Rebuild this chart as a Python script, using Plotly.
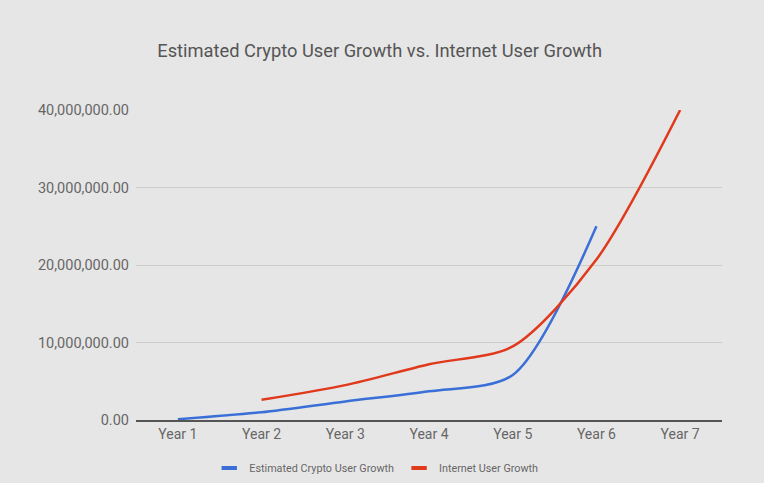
import plotly.graph_objects as go

years = ["Year 1", "Year 2", "Year 3", "Year 4", "Year 5", "Year 6", "Year 7"]
crypto_users = [100000, 1000000, 2400000, 3700000, 5800000, 25000000, None]
internet_users = [None, 2600000, 4500000, 7200000, 9500000, 20700000, 40000000]
y_ticks = [0, 10000000, 20000000, 30000000, 40000000]
y_tick_labels = ["0.00", "10,000,000.00", "20,000,000.00", "30,000,000.00", "40,000,000.00"]
series_names = ["Estimated Crypto User Growth", "Internet User Growth"]
series_colors = ["#3a6fd8", "#e0391c"]

BG = "#e6e6e6"
fig = go.Figure()
for name, vals, col in zip(series_names, [crypto_users, internet_users], series_colors):
    fig.add_trace(go.Scatter(
        x=years, y=vals, mode="lines", name=name, showlegend=False,
        line=dict(color=col, width=2.5, shape="spline", smoothing=0.8),
        connectgaps=False,
    ))
# legend entries with short dash symbols
for name, col in zip(series_names, series_colors):
    fig.add_trace(go.Scatter(
        x=[None], y=[None], mode="markers", name=name, showlegend=True,
        marker=dict(symbol="line-ew", size=11, color=col, line=dict(color=col, width=4)),
    ))

fig.update_layout(
    width=764, height=483,
    paper_bgcolor=BG, plot_bgcolor=BG,
    font=dict(family="Roboto, Arial, sans-serif", color="#666666"),
    title=dict(text="Estimated Crypto User Growth vs. Internet User Growth",
               x=0.497, xanchor="center", y=0.895, yanchor="middle",
               font=dict(size=18.3, color="#555555")),
    margin=dict(l=136, r=42, t=110, b=63),
    showlegend=True,
    legend=dict(orientation="h", x=0.41, xanchor="center",
                yref="container", y=(483 - 468) / 483, yanchor="middle",
                font=dict(size=10.8, color="#666666"), bgcolor="rgba(0,0,0,0)",
                itemwidth=30, tracegroupgap=0),
    xaxis=dict(type="category", categoryorder="array", categoryarray=years,
               range=[-0.5, 6.5], showgrid=False, zeroline=False,
               showline=True, linecolor="#555555", linewidth=2,
               ticks="", tickfont=dict(size=14, color="#666666")),
    yaxis=dict(range=[0, 40000000], tickvals=y_ticks, ticktext=y_tick_labels,
               showgrid=True, gridcolor="#cccccc", gridwidth=1, zeroline=False,
               showline=False, ticks="", ticklabelstandoff=6,
               tickfont=dict(size=14.5, color="#666666")),
)

fig.write_html("out.html", config={"displayModeBar": False},
               post_script="document.body.style.margin='0';document.body.style.background='#e6e6e6';")
